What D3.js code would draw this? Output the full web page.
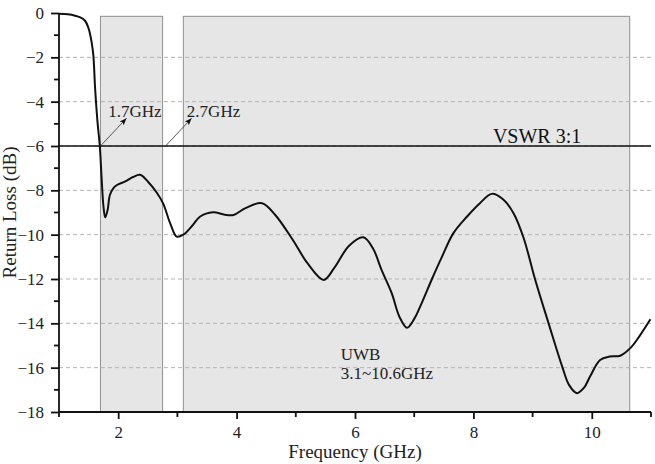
<!DOCTYPE html>
<html>
<head>
<meta charset="utf-8">
<script src="https://cdn.jsdelivr.net/npm/d3@7"></script>
<style>
html,body{margin:0;padding:0;background:#fff;}
svg{display:block;}
text{font-family:"Liberation Serif","DejaVu Serif","Times New Roman",serif;}
</style>
</head>
<body>
<svg id="chart" width="655" height="464"></svg>
<script>
// Data
const freq = [1.0,1.15,1.27,1.36,1.44,1.5,1.55,1.58,1.61,1.65,1.69,1.72,1.75,1.78,1.82,1.86,1.92,1.98,2.12,2.25,2.37,2.5,2.65,2.76,2.88,2.99,3.1,3.25,3.38,3.6,3.8,3.95,4.15,4.43,4.65,4.95,5.2,5.47,5.65,5.9,6.14,6.3,6.45,6.62,6.75,6.88,7.0,7.1,7.3,7.47,7.66,7.89,8.11,8.31,8.5,8.68,8.85,9.04,9.27,9.5,9.62,9.75,9.87,9.97,10.14,10.3,10.48,10.65,10.8,10.99];
const returnLoss = [-0.03,-0.06,-0.12,-0.2,-0.35,-0.7,-1.3,-1.9,-3.4,-4.9,-6.03,-7.46,-8.7,-9.22,-8.9,-8.21,-7.9,-7.76,-7.6,-7.4,-7.3,-7.6,-8.1,-8.6,-9.5,-10.09,-10.0,-9.6,-9.19,-8.99,-9.1,-9.11,-8.8,-8.58,-9.1,-10.24,-11.3,-12.04,-11.5,-10.5,-10.12,-10.6,-11.6,-12.64,-13.7,-14.2,-13.8,-13.25,-12.0,-10.99,-9.94,-9.19,-8.58,-8.16,-8.4,-9.04,-10.16,-12.0,-14.0,-15.95,-16.8,-17.15,-16.9,-16.4,-15.65,-15.5,-15.46,-15.12,-14.6,-13.82];
const bandStart = [1.7, 3.1];
const bandEnd = [2.75, 10.64];
const bandTop = -0.15;
const vswrLevel = -6;
const xMajorTicks = [2,4,6,8,10];
const xMinorTicks = [1,3,5,7,9,11];
const yMajorTicks = [0,-2,-4,-6,-8,-10,-12,-14,-16,-18];
const yMinorTicks = [-1,-3,-5,-7,-9,-11,-13,-15,-17];
const gridLevels = [-2,-4,-6,-8,-10,-12,-14,-16];
const arrowLabels = ["1.7GHz","2.7GHz"];
const arrowFromX = [1.7, 2.8];
const arrowToX = [2.14, 3.24];
const arrowToY = -4.75;
const labelX = [1.83, 3.16];
const labelY = -4.7;

const FONT = "Liberation Serif, DejaVu Serif, serif";
const svg = d3.select("#chart");
const x = d3.scaleLinear().domain([1,11]).range([59,651]);
const y = d3.scaleLinear().domain([0,-18]).range([13,412]);

// bands
svg.selectAll("rect.band").data(bandStart).enter().append("rect")
  .attr("x", (d)=>x(d)).attr("y", y(bandTop))
  .attr("width", (d,i)=>x(bandEnd[i])-x(d))
  .attr("height", y(-18)-y(bandTop))
  .attr("fill","#e6e6e6").attr("stroke","#8f8f8f").attr("stroke-width",1);

// grid
svg.selectAll("line.grid").data(gridLevels).enter().append("line")
  .attr("x1", x(1)).attr("x2", x(11))
  .attr("y1", d=>y(d)).attr("y2", d=>y(d))
  .attr("stroke","#b3b3b3").attr("stroke-width",1).attr("stroke-dasharray","4,3");

// VSWR line
svg.append("line").attr("x1",x(1)).attr("x2",x(11))
  .attr("y1",y(vswrLevel)).attr("y2",y(vswrLevel))
  .attr("stroke","#111").attr("stroke-width",1.6);

// arrows
const defs = svg.append("defs");
defs.append("marker").attr("id","ah").attr("viewBox","0 0 10 10")
  .attr("refX",10).attr("refY",5).attr("markerWidth",9).attr("markerHeight",7)
  .attr("markerUnits","userSpaceOnUse").attr("orient","auto")
  .append("path").attr("d","M0,1 L10,5 L0,9 L2,5 Z").attr("fill","#111");
svg.selectAll("line.arrow").data(arrowFromX).enter().append("line")
  .attr("x1",d=>x(d)).attr("y1",y(vswrLevel))
  .attr("x2",(d,i)=>x(arrowToX[i])).attr("y2",y(arrowToY))
  .attr("stroke","#444").attr("stroke-width",0.9).attr("marker-end","url(#ah)");
svg.selectAll("text.alab").data(arrowLabels).enter().append("text")
  .attr("x",(d,i)=>x(labelX[i])).attr("y",y(labelY)).attr("font-family",FONT)
  .attr("font-size",17).attr("fill","#222").text(d=>d);

// curve
const line = d3.line().x((d,i)=>x(freq[i])).y(d=>y(d)).curve(d3.curveCatmullRom.alpha(0.5));
svg.append("path").datum(returnLoss).attr("d",line)
  .attr("fill","none").attr("stroke","#111").attr("stroke-width",2);

// texts
svg.append("text").attr("x",x(8.33)).attr("y",y(-5.86)).attr("font-family",FONT).attr("font-size",20).attr("fill","#111").text("VSWR 3:1");
svg.append("text").attr("x",x(5.76)).attr("y",y(-15.65)).attr("font-family",FONT).attr("font-size",17).attr("fill","#222").text("UWB");
svg.append("text").attr("x",x(5.76)).attr("y",y(-16.5)).attr("font-family",FONT).attr("font-size",17).attr("fill","#222").text("3.1~10.6GHz");

// axes
const xAxis = d3.axisBottom(x).tickValues(xMajorTicks).tickSize(7).tickPadding(7).tickFormat(d3.format("d"));
const gx = svg.append("g").attr("transform",`translate(0,${y(-18)})`).call(xAxis).attr("font-family",FONT);
gx.selectAll(".tick line").attr("stroke","#111").attr("stroke-width",1.8);
gx.select(".domain").attr("stroke","#111").attr("stroke-width",1.8);
gx.selectAll("text").attr("font-size",17).attr("font-family",FONT).attr("fill","#222");
gx.selectAll("line.minor").data(xMinorTicks).enter().append("line").attr("class","minor")
  .attr("x1",d=>x(d)).attr("x2",d=>x(d)).attr("y1",0).attr("y2",5)
  .attr("stroke","#111").attr("stroke-width",1.8);

const yAxis = d3.axisLeft(y).tickValues(yMajorTicks).tickSize(8).tickPadding(7).tickFormat(d3.format("d"));
const gy = svg.append("g").attr("transform",`translate(${x(1)},0)`).call(yAxis).attr("font-family",FONT);
gy.selectAll(".tick line").attr("stroke","#111").attr("stroke-width",1.8);
gy.select(".domain").attr("stroke","#111").attr("stroke-width",1.8);
gy.selectAll("text").attr("font-size",17).attr("font-family",FONT).attr("fill","#222");
gy.selectAll("line.minor").data(yMinorTicks).enter().append("line").attr("class","minor")
  .attr("x1",0).attr("x2",-5).attr("y1",d=>y(d)).attr("y2",d=>y(d))
  .attr("stroke","#111").attr("stroke-width",1.8);
gx.select(".domain").attr("d",`M${x(1)},0H${x(11)}`);
gy.select(".domain").attr("d",`M0,${y(0)}V${y(-18)}`);

// titles
svg.append("text").attr("x",(x(1)+x(11))/2).attr("y",458).attr("text-anchor","middle").attr("font-family",FONT)
  .attr("font-size",19).attr("fill","#222").text("Frequency (GHz)");
svg.append("text").attr("transform",`translate(16,${(y(0)+y(-18))/2}) rotate(-90)`).attr("text-anchor","middle").attr("font-family",FONT)
  .attr("font-size",19).attr("fill","#222").text("Return Loss (dB)");
</script>
</body>
</html>
